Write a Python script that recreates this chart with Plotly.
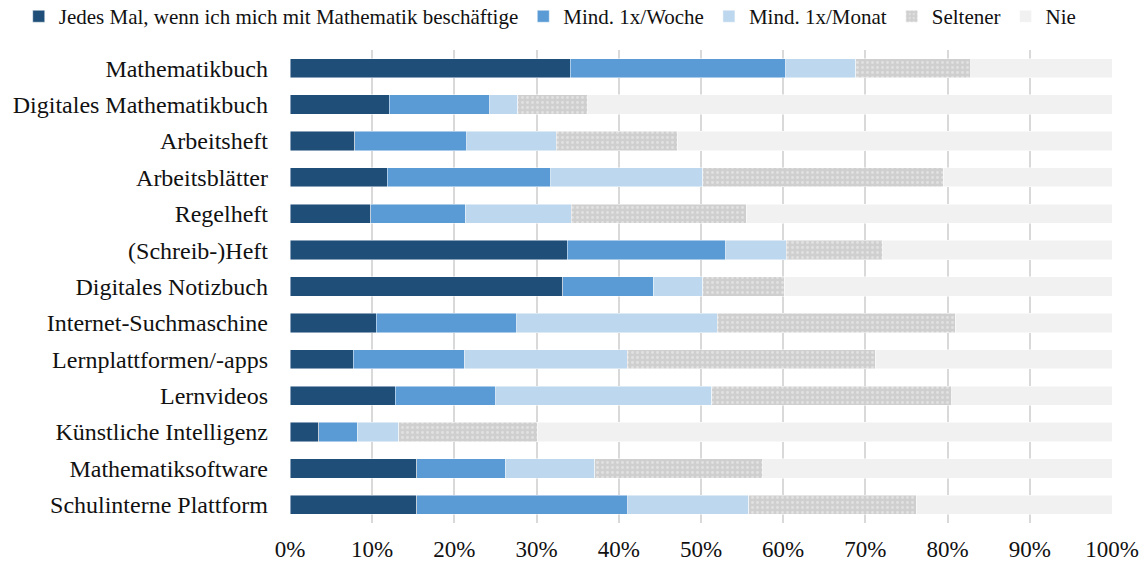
import plotly.graph_objects as go

categories = ["Mathematikbuch", "Digitales Mathematikbuch", "Arbeitsheft", "Arbeitsblätter",
              "Regelheft", "(Schreib-)Heft", "Digitales Notizbuch", "Internet-Suchmaschine",
              "Lernplattformen/-apps", "Lernvideos", "Künstliche Intelligenz",
              "Mathematiksoftware", "Schulinterne Plattform"]

jedes_mal = [34.1, 12.1, 7.9, 11.8, 9.8, 33.7, 33.2, 10.5, 7.7, 12.8, 3.5, 15.4, 15.4]
woche     = [26.2, 12.2, 13.6, 19.9, 11.5, 19.3, 11.0, 17.1, 13.5, 12.2, 4.7, 10.8, 25.7]
monat     = [8.5, 3.4, 10.9, 18.5, 12.9, 7.4, 6.0, 24.4, 19.8, 26.3, 5.0, 10.9, 14.7]
seltener  = [14.0, 8.5, 14.7, 29.3, 21.3, 11.7, 9.9, 28.9, 30.2, 29.2, 16.9, 20.4, 20.4]
nie       = [17.2, 63.8, 52.9, 20.5, 44.5, 27.9, 39.9, 19.1, 28.8, 19.5, 69.9, 42.5, 23.8]

series_names = ["Jedes Mal, wenn ich mich mit Mathematik beschäftige", "Mind. 1x/Woche",
                "Mind. 1x/Monat", "Seltener", "Nie"]
x_ticks = [0, 10, 20, 30, 40, 50, 60, 70, 80, 90, 100]

colors = ["#1F4E79", "#5B9BD5", "#BDD7EE", "#D0D0D0", "#F1F1F1"]
values = [jedes_mal, woche, monat, seltener, nie]

fig = go.Figure()
for name, vals, col in zip(series_names, values, colors):
    marker = dict(color=col, line=dict(color="rgba(255,255,255,0.6)", width=0.8))
    if name == "Seltener":
        marker["pattern"] = dict(shape=".", fgcolor="#F4F4F4", bgcolor="#CFCFCF",
                                 size=5, solidity=0.25, fillmode="overlay")
    fig.add_trace(go.Bar(y=categories, x=vals, name=name, orientation="h",
                         marker=marker, width=0.53))

font_family = "Liberation Serif"
fig.update_layout(
    barmode="stack",
    width=1146, height=562,
    margin=dict(l=290, r=34, t=50, b=39, autoexpand=False),
    paper_bgcolor="white", plot_bgcolor="white",
    font=dict(family=font_family, size=23, color="#111111"),
    legend=dict(orientation="h",
                x=-0.33, y=1.114, xanchor="left", yanchor="top",
                font=dict(size=21), itemwidth=30, traceorder="normal",
                bgcolor="rgba(0,0,0,0)", tracegroupgap=0),
    xaxis=dict(range=[0, 100], tickvals=x_ticks, ticktext=[f"{v}%" for v in x_ticks],
               showgrid=True, gridcolor="#D9D9D9", gridwidth=1.5, zeroline=False,
               showline=False, ticks="", ticklabelstandoff=10, automargin=False,
               tickfont=dict(size=23)),
    yaxis=dict(autorange="reversed", showgrid=False, ticks="", ticklabelstandoff=21,
               tickfont=dict(size=24), showline=False, automargin=False),
    bargap=0.47,
)

fig.write_html("out.html")
